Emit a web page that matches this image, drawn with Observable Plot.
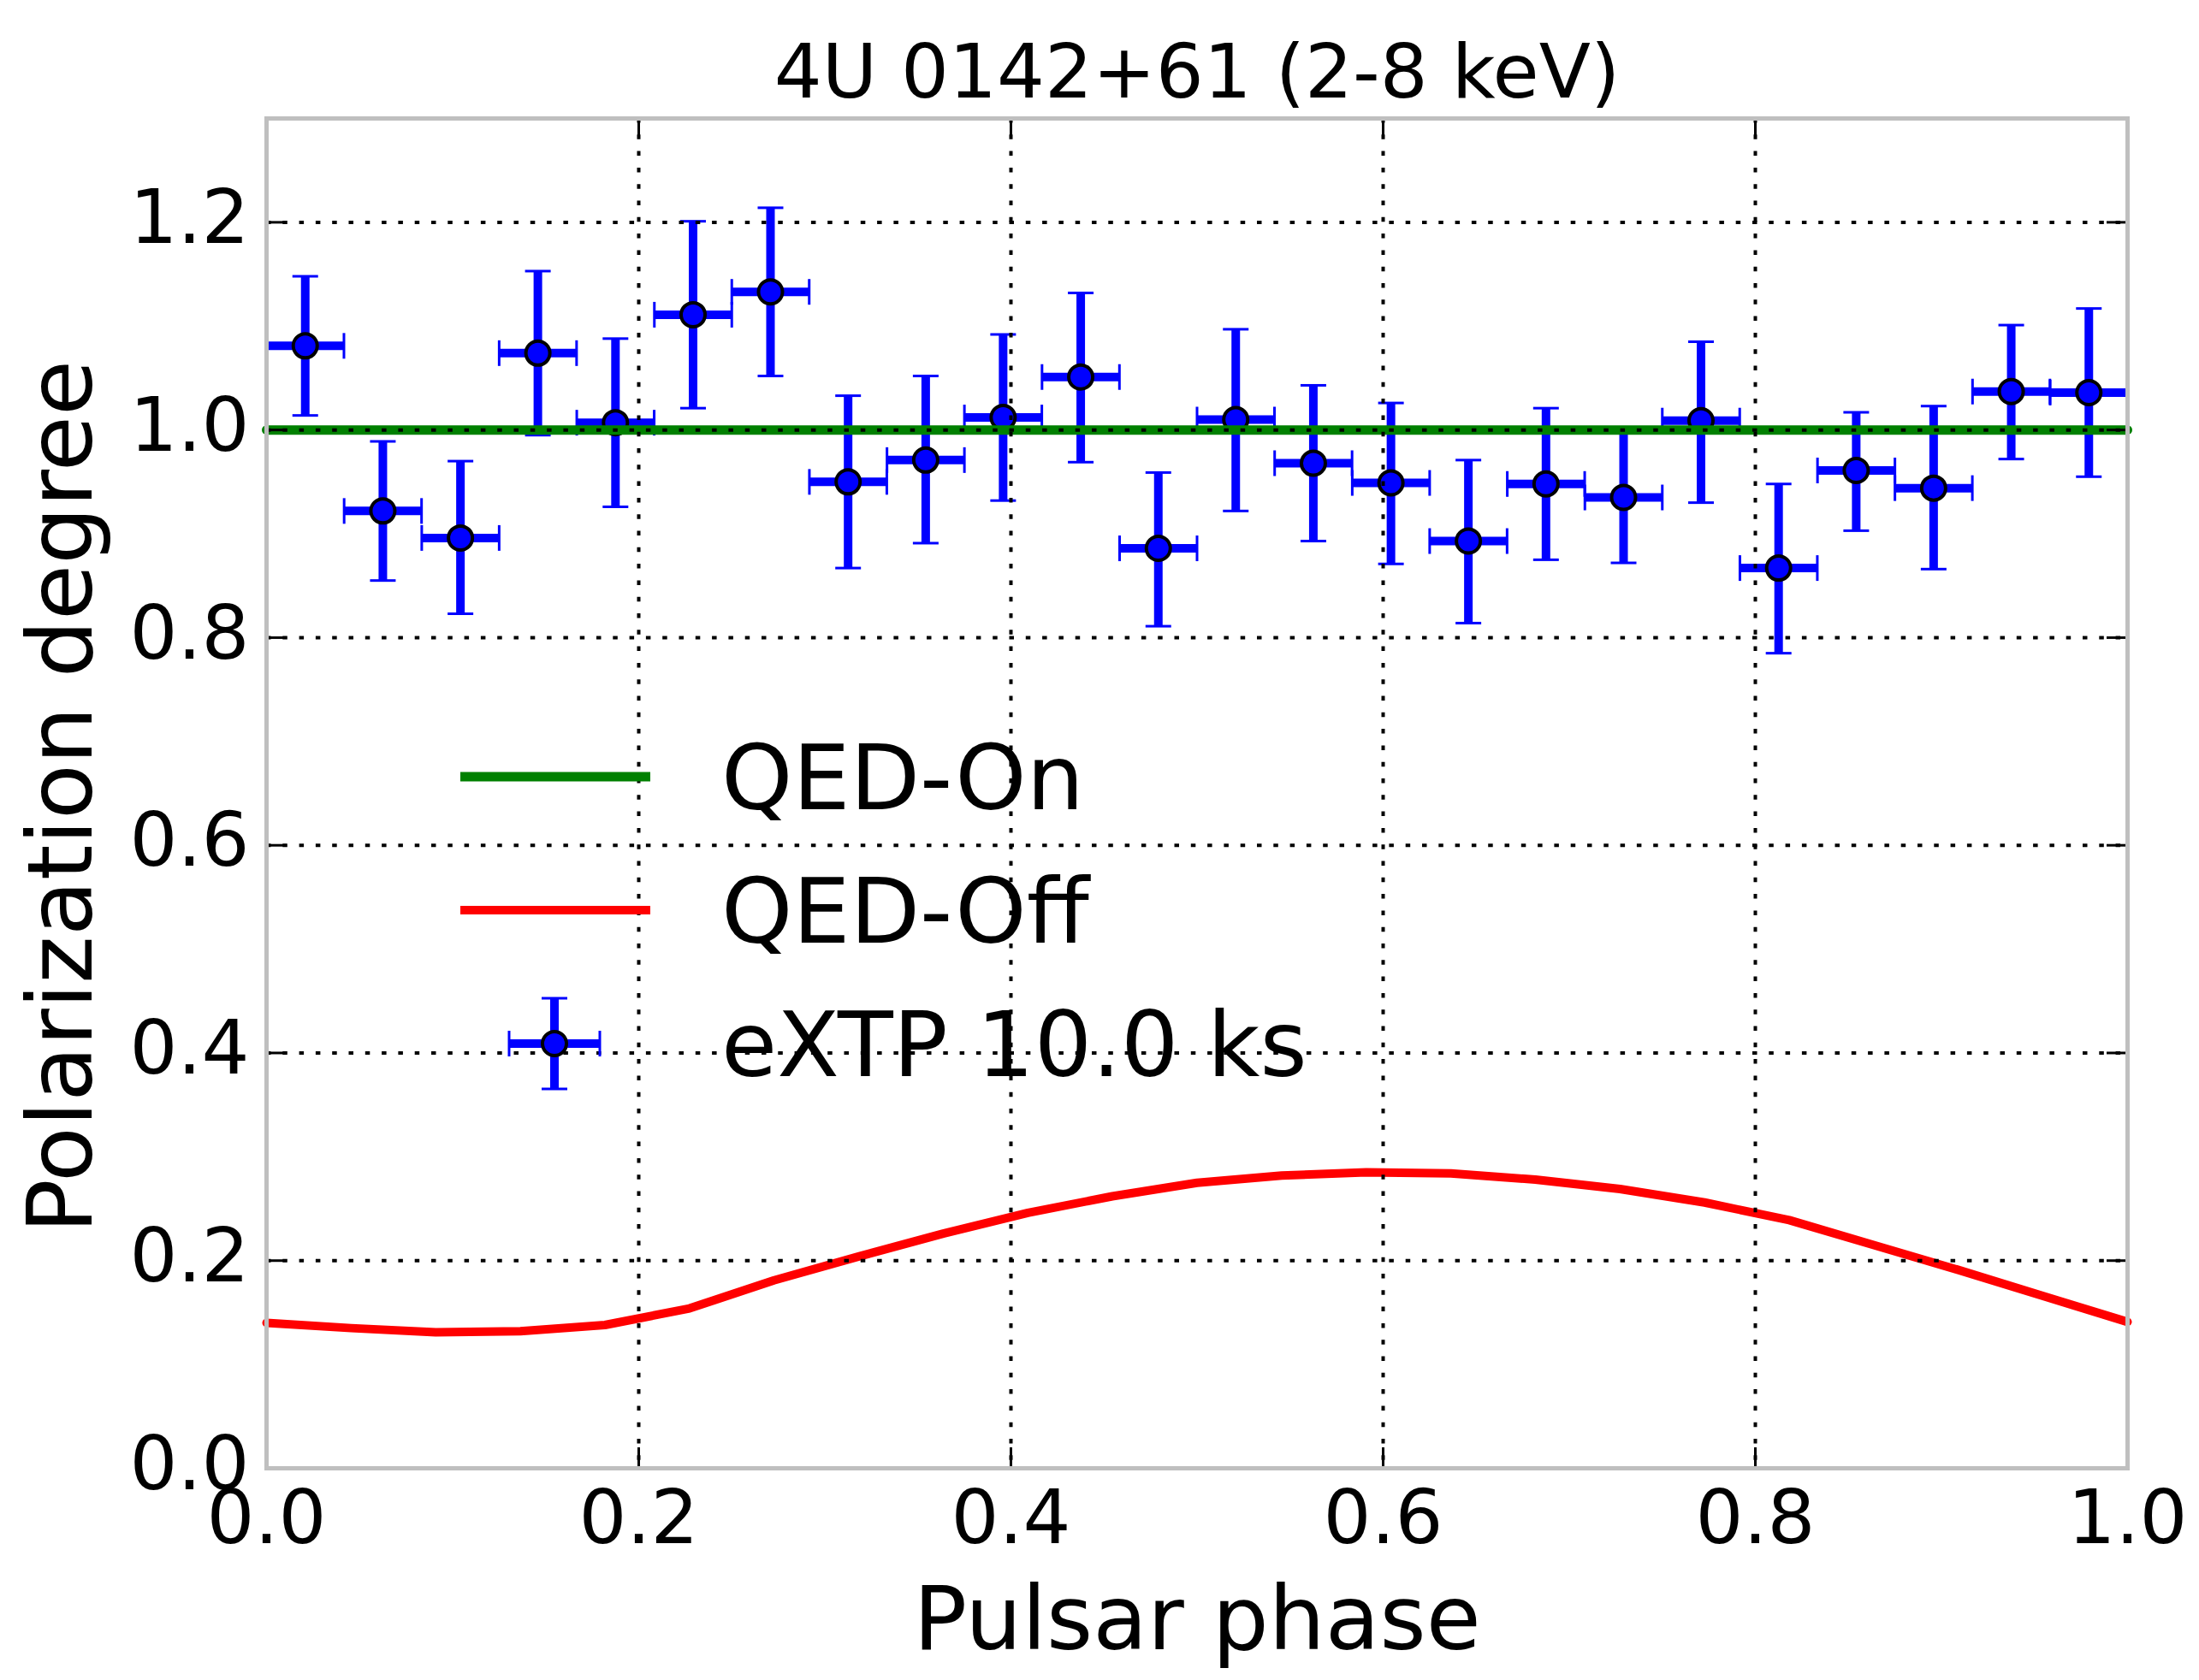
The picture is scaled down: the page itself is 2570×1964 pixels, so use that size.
<!DOCTYPE html>
<html><head><meta charset="utf-8">
<script src="https://cdn.jsdelivr.net/npm/d3@7"></script>
<script src="https://cdn.jsdelivr.net/npm/@observablehq/plot@0.6"></script>
<style>html,body{margin:0;padding:0;background:#fff;} #chart{width:2570px;height:1964px;}</style>
</head><body><div id="chart"></div>
<script>
// ---- data ----
const phase = [0.0208, 0.0625, 0.1042, 0.1458, 0.1875, 0.2292, 0.2708, 0.3125, 0.3542, 0.3958, 0.4375, 0.4792,
               0.5208, 0.5625, 0.6042, 0.6458, 0.6875, 0.7292, 0.7708, 0.8125, 0.8542, 0.8958, 0.9375, 0.9792];
const pd     = [1.081, 0.922, 0.896, 1.074, 1.007, 1.111, 1.133, 0.950, 0.971, 1.012, 1.051, 0.886,
                1.010, 0.968, 0.949, 0.893, 0.948, 0.935, 1.009, 0.867, 0.961, 0.944, 1.037, 1.036];
const pdHigh = [1.148, 0.989, 0.970, 1.153, 1.088, 1.201, 1.214, 1.033, 1.052, 1.092, 1.132, 0.959,
                1.097, 1.043, 1.026, 0.971, 1.021, 0.998, 1.085, 0.948, 1.017, 1.023, 1.101, 1.117];
const pdLow  = [1.014, 0.855, 0.823, 0.995, 0.926, 1.021, 1.052, 0.867, 0.891, 0.932, 0.969, 0.811,
                0.922, 0.893, 0.871, 0.814, 0.875, 0.872, 0.930, 0.785, 0.903, 0.866, 0.972, 0.955];
const binHalfWidth = 0.0208;

const qedOnPhase = [0.0, 1.0];
const qedOn      = [1.0, 1.0];

const qedOffPhase = [0.0, 0.0455, 0.0909, 0.1364, 0.1818, 0.2273, 0.2727, 0.3182, 0.3636, 0.4091, 0.4545, 0.5,
                     0.5455, 0.5909, 0.6364, 0.6818, 0.7273, 0.7727, 0.8182, 0.8636, 0.9091, 0.9545, 1.0];
const qedOff      = [0.140, 0.135, 0.131, 0.132, 0.138, 0.154, 0.181, 0.204, 0.226, 0.246, 0.262, 0.275,
                     0.282, 0.285, 0.284, 0.278, 0.269, 0.256, 0.239, 0.215, 0.191, 0.166, 0.141];

const xTicks = [0.0, 0.2, 0.4, 0.6, 0.8, 1.0];
const yTicks = [0.0, 0.2, 0.4, 0.6, 0.8, 1.0, 1.2];
const title = "4U 0142+61 (2-8 keV)";
const xLabel = "Pulsar phase";
const yLabel = "Polarization degree";
const legendLabels = ["QED-On", "QED-Off", "eXTP 10.0 ks"];

// ---- build tables ----
const points = phase.map((p, i) => ({phase: p, pd: pd[i], lo: pdLow[i], hi: pdHigh[i]}));
const onLine = qedOnPhase.map((p, i) => ({phase: p, pd: qedOn[i]}));
const offLine = qedOffPhase.map((p, i) => ({phase: p, pd: qedOff[i]}));

// ---- layout / style ----
const W = 2570, H = 1964, mL = 311, mR = 84, mT = 138, mB = 248;
const innerW = W - mL - mR, innerH = H - mT - mB;
const BLUE = "#0000ff", GREEN = "#008000", RED = "#ff0000";
const tickLen = 24, capHalf = 15;
const hCap = {draw(ctx) { ctx.moveTo(-capHalf, 0); ctx.lineTo(capHalf, 0); }};
const vCap = {draw(ctx) { ctx.moveTo(0, -capHalf); ctx.lineTo(0, capHalf); }};
const grid = {stroke: "black", strokeOpacity: 1, strokeWidth: 4, strokeDasharray: "5.5,13.8"};
const fmt = d3.format(".1f");

const chart = Plot.plot({
  width: W, height: H,
  marginLeft: mL, marginRight: mR, marginTop: mT, marginBottom: mB,
  style: {fontFamily: "DejaVu Sans", background: "white", color: "black", overflow: "visible"},
  x: {domain: [0, 1]},
  y: {domain: [0, 1.3]},
  marks: [
    // error bars
    Plot.ruleX(points, {x: "phase", y1: "lo", y2: "hi", stroke: BLUE, strokeWidth: 10}),
    Plot.ruleY(points, {y: "pd", x1: d => d.phase - binHalfWidth, x2: d => d.phase + binHalfWidth, stroke: BLUE, strokeWidth: 10}),
    Plot.dot(points, {x: "phase", y: "hi", symbol: hCap, fill: "none", stroke: BLUE, strokeWidth: 3}),
    Plot.dot(points, {x: "phase", y: "lo", symbol: hCap, fill: "none", stroke: BLUE, strokeWidth: 3}),
    Plot.dot(points, {x: d => d.phase - binHalfWidth, y: "pd", symbol: vCap, fill: "none", stroke: BLUE, strokeWidth: 3}),
    Plot.dot(points, {x: d => d.phase + binHalfWidth, y: "pd", symbol: vCap, fill: "none", stroke: BLUE, strokeWidth: 3}),
    Plot.dot(points, {x: "phase", y: "pd", r: 14, fill: BLUE, stroke: "black", strokeWidth: 4}),
    // models
    Plot.line(onLine, {x: "phase", y: "pd", stroke: GREEN, strokeWidth: 11}),
    Plot.line(offLine, {x: "phase", y: "pd", stroke: RED, strokeWidth: 10, strokeLinejoin: "round"}),
    // grid on top
    Plot.gridX(xTicks, {...grid}),
    Plot.gridY(yTicks, {...grid}),
    // inward ticks on all sides
    Plot.tickX(xTicks, {x: d => d, insetTop: innerH - tickLen, stroke: "black", strokeWidth: 3}),
    Plot.tickX(xTicks, {x: d => d, insetBottom: innerH - tickLen, stroke: "black", strokeWidth: 3}),
    Plot.tickY(yTicks, {y: d => d, insetRight: innerW - tickLen, stroke: "black", strokeWidth: 3}),
    Plot.tickY(yTicks, {y: d => d, insetLeft: innerW - tickLen, stroke: "black", strokeWidth: 3}),
    Plot.frame({stroke: "#bfbfbf", strokeWidth: 5}),
    // tick labels
    Plot.axisX(xTicks, {tickSize: 0, tickPadding: 25, fontSize: 88, tickFormat: fmt, label: null, fill: "black"}),
    Plot.axisY(yTicks, {tickSize: 0, tickPadding: 20, fontSize: 88, tickFormat: fmt, label: null, fill: "black", dy: -4}),
    // texts
    Plot.text([title], {text: d => d, frameAnchor: "top", textAnchor: "middle", lineAnchor: "bottom", dy: -25, fontSize: 88, fill: "black"}),
    Plot.text([xLabel], {text: d => d, frameAnchor: "bottom", textAnchor: "middle", lineAnchor: "bottom", dy: 211, fontSize: 104, fill: "black"}),
    Plot.text([yLabel], {text: d => d, frameAnchor: "left", textAnchor: "middle", lineAnchor: "bottom", rotate: -90, dx: -205, dy: 4, fontSize: 106, fill: "black"})
  ]
});

document.getElementById("chart").appendChild(chart);

// ---- legend (inside the axes, no frame) ----
const svg = d3.select(chart);
const lg = svg.append("g").attr("font-family", "DejaVu Sans").attr("font-size", 106).attr("text-anchor", "start");
const rowBase = [946, 1102, 1258];
const handleX0 = 538, handleX1 = 760, handleCx = 648, textX = 843, handleDy = -38;
const legendKinds = [{type: "line", color: GREEN, w: 11}, {type: "line", color: RED, w: 10}, {type: "err", color: BLUE}];
legendLabels.forEach((label, i) => {
  const yb = rowBase[i], yc = yb + handleDy, k = legendKinds[i];
  if (k.type === "line") {
    lg.append("line").attr("x1", handleX0).attr("x2", handleX1).attr("y1", yc).attr("y2", yc)
      .attr("stroke", k.color).attr("stroke-width", k.w);
  } else {
    const e = 53;
    lg.append("line").attr("x1", handleCx).attr("x2", handleCx).attr("y1", yc - e).attr("y2", yc + e).attr("stroke", BLUE).attr("stroke-width", 10);
    lg.append("line").attr("x1", handleCx - e).attr("x2", handleCx + e).attr("y1", yc).attr("y2", yc).attr("stroke", BLUE).attr("stroke-width", 10);
    [-e, e].forEach(dx => {
      lg.append("line").attr("x1", handleCx + dx).attr("x2", handleCx + dx).attr("y1", yc - capHalf).attr("y2", yc + capHalf).attr("stroke", BLUE).attr("stroke-width", 3);
    });
    [-e, e].forEach(dy => {
      lg.append("line").attr("x1", handleCx - capHalf).attr("x2", handleCx + capHalf).attr("y1", yc + dy).attr("y2", yc + dy).attr("stroke", BLUE).attr("stroke-width", 3);
    });
    lg.append("circle").attr("cx", handleCx).attr("cy", yc).attr("r", 14).attr("fill", BLUE).attr("stroke", "black").attr("stroke-width", 4);
  }
  lg.append("text").attr("x", textX).attr("y", yb).attr("fill", "black").attr("text-anchor", "start").text(label);
});
</script>
</body></html>
